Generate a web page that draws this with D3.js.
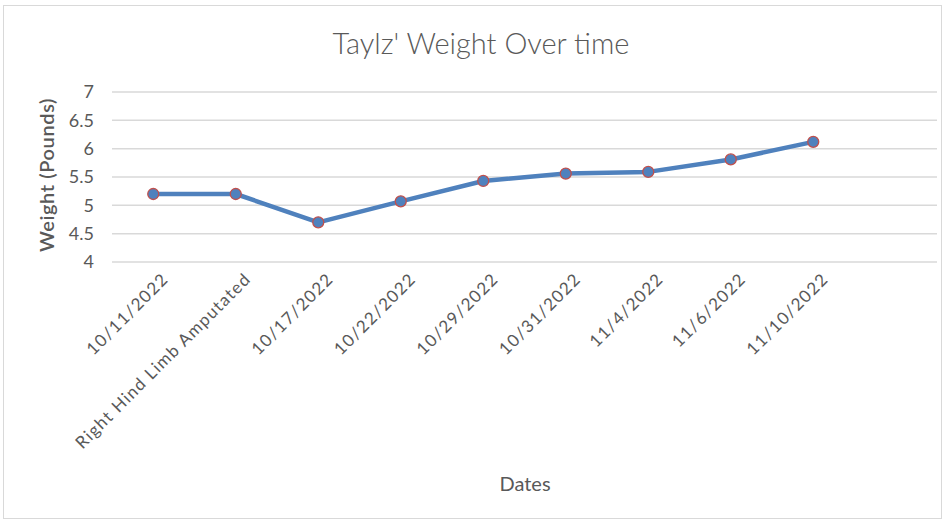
<!DOCTYPE html>
<html>
<head>
<meta charset="utf-8" />
<title>Taylz' Weight Over time</title>
<style>
    body { margin: 0; background: #fff; }
    text { font-family: Lato, "Open Sans", sans-serif; fill: #595959; }
</style>
</head>
<body>
<div id="container"></div>
<script src="https://cdn.jsdelivr.net/npm/d3@7"></script>
<script>
    const dates = ['10/11/2022', 'Right Hind Limb Amputated', '10/17/2022', '10/22/2022', '10/29/2022',
        '10/31/2022', '11/4/2022', '11/6/2022', '11/10/2022', '']
    const weights = [5.2, 5.2, 4.7, 5.07, 5.43, 5.56, 5.59, 5.81, 6.12]
    const yTicks = [4, 4.5, 5, 5.5, 6, 6.5, 7]

    const W = 945, H = 523
    const margin = { top: 92, right: 8, bottom: 261, left: 112 }
    const width = W - margin.left - margin.right
    const height = H - margin.top - margin.bottom

    let svg = d3.select('#container').append('svg').attr('width', W).attr('height', H)

    // chart frame
    svg.append('rect').attr('x', 3.5).attr('y', 5.5).attr('width', W - 7).attr('height', H - 10)
        .attr('fill', '#fff').attr('stroke', '#d9d9d9')

    let chart = svg.append('g').attr('transform', `translate(${margin.left},${margin.top})`)

    let xScale = d3.scaleBand().domain(d3.range(dates.length)).range([0, width])
    let yScale = d3.scaleLinear().domain([4, 7]).range([height, 0])

    // gridlines
    chart.append('g').selectAll('line').data(yTicks).join('line')
        .attr('x1', 0).attr('x2', width)
        .attr('y1', d => yScale(d)).attr('y2', d => yScale(d))
        .attr('stroke', '#d9d9d9').attr('stroke-width', 1.5)

    // y axis labels
    let yAxis = d3.axisLeft(yScale).tickValues(yTicks).tickSize(0).tickPadding(18).tickFormat(d3.format(''))
    chart.append('g').call(yAxis).call(g => g.select('.domain').remove())
        .selectAll('text').style('font-size', '18px').style('fill', '#595959')

    // x axis labels, rotated
    let xAxis = d3.axisBottom(xScale).tickFormat(i => dates[i]).tickSize(0)
    chart.append('g').attr('transform', `translate(0,${height})`).call(xAxis)
        .call(g => g.select('.domain').remove())
        .selectAll('text')
        .style('font-size', '17px').style('fill', '#595959').style('letter-spacing', '1.3px')
        .style('text-anchor', 'end')
        .attr('transform', 'translate(12,14) rotate(-45)')
        .attr('dy', '0.35em').attr('y', 0)

    let cx = i => xScale(i) + xScale.bandwidth() / 2

    let line = d3.line().x((d, i) => cx(i)).y(d => yScale(d))
    chart.append('path').datum(weights).attr('d', line)
        .attr('fill', 'none').attr('stroke', '#4f81bd').attr('stroke-width', 4.5)
        .attr('stroke-linejoin', 'round').attr('stroke-linecap', 'round')

    chart.append('g').selectAll('circle').data(weights).join('circle')
        .attr('cx', (d, i) => cx(i)).attr('cy', d => yScale(d)).attr('r', 5.5)
        .attr('fill', '#4f81bd').attr('stroke', '#c0504d').attr('stroke-width', 1.3)

    // titles
    svg.append('text').attr('x', 481).attr('y', 54).attr('text-anchor', 'middle')
        .style('font-size', '29px').style('font-weight', 300).text("Taylz' Weight Over time")

    svg.append('text').attr('transform', `translate(54,${margin.top + height / 2 - 2}) rotate(-90)`)
        .attr('text-anchor', 'middle').style('font-size', '20px').style('font-weight', 600)
        .style('letter-spacing', '0.6px')
        .text('Weight (Pounds)')

    svg.append('text').attr('x', 525).attr('y', 491).attr('text-anchor', 'middle')
        .style('font-size', '20px').text('Dates')
</script>
</body>
</html>
